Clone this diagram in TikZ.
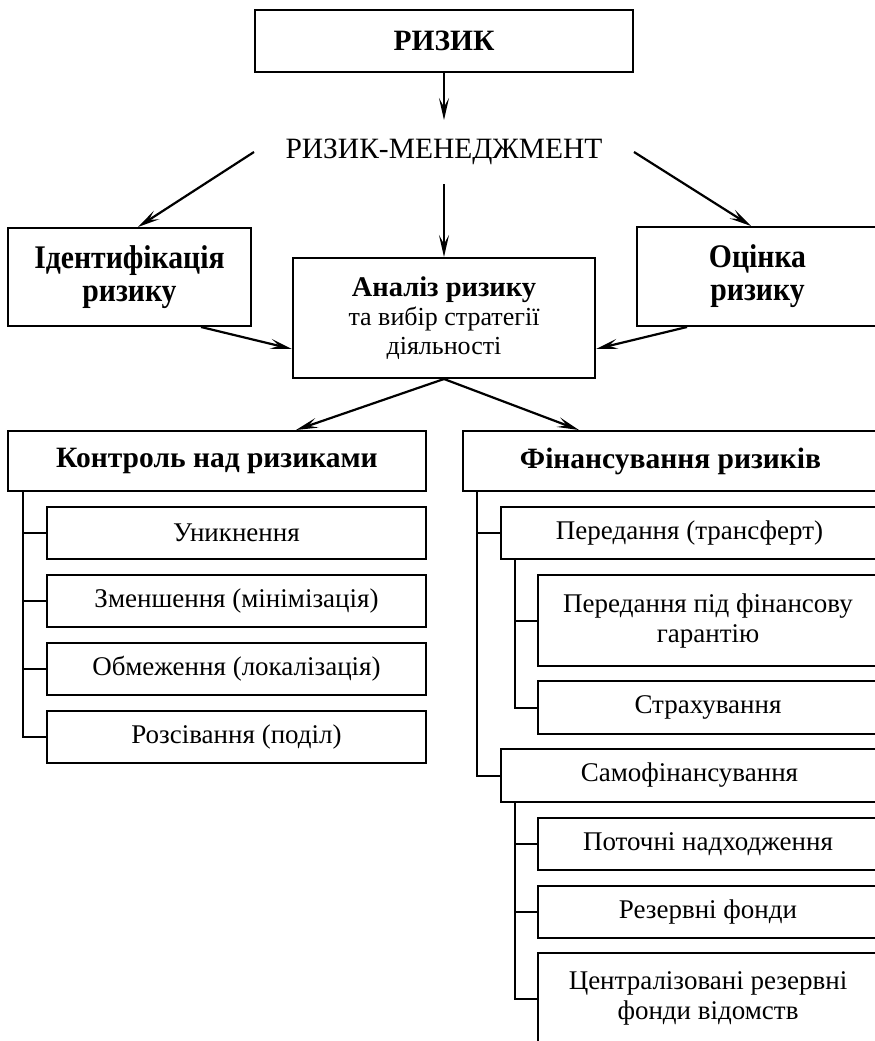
\documentclass[tikz,border=0pt]{standalone}
\usepackage{fontspec}
\setmainfont{Liberation Serif}
\newfontfamily\narrowserif[FakeStretch=0.9]{Liberation Serif}
\usetikzlibrary{arrows.meta}

\begin{document}
\begin{tikzpicture}[
  x = 1pt, y = -1pt,
  > = {Stealth[length=22pt,width=10pt,inset=9pt]},
  font = \fontsize{27}{30}\selectfont,
  line width = 2pt,
  box/.style = {draw,rectangle,align=center,inner sep=0pt},
  item/.style = {box,minimum height=52pt},
  head/.style = {font=\fontsize{29.5}{33}\selectfont\bfseries},
  tallhead/.style = {font=\fontsize{33}{33}\narrowserif\bfseries},
  arr/.style = {->,line width=2.2pt}
  ]
  \useasboundingbox (0,0) rectangle (875,1041);
  \clip (0,0) rectangle (875,1041);

  % top part
  \node[box,head,minimum width=378pt,minimum height=62pt] (@ryzyk) at (444,41) {РИЗИК};
  \node[align=center,font=\fontsize{29.5}{33}\selectfont,minimum width=378pt,minimum height=62pt,inner sep=0pt] (@rm) at (444,152) {РИЗИК-МЕНЕДЖМЕНТ};
  \node[box,tallhead,minimum width=243pt,minimum height=98pt] (@ident) at (129.5,277) {Ідентифікація\\ризику};
  \node[box,tallhead,minimum width=241pt,minimum height=99pt] (@ocinka) at (757.5,276.5) {Оцінка\\ризику};
  \node[box,font=\fontsize{26}{29}\selectfont,minimum width=302pt,minimum height=120pt] (@analiz) at (444,318)
    {{\fontsize{28.5}{32}\selectfont\bfseries Аналіз ризику}\\та вибір стратегії\\діяльності};

  \draw[arr] (@ryzyk.south) -- (@rm.north);
  \draw[arr] (@rm.west) -- ([xshift=8.5]@ident.north);
  \draw[arr] (@rm.east) -- ([xshift=-6.5]@ocinka.north);
  \draw[arr] (@rm.south) -- (@analiz.north);
  \draw[arr] ([xshift=-51]@ident.south east) -- ([yshift=-31]@analiz.west);
  \draw[arr] ([xshift=51]@ocinka.south west) -- ([yshift=-31]@analiz.east);

  % two branches
  \node[box,head,minimum width=418pt,minimum height=60pt] (@kontrol) at (217,461) {Контроль над ризиками};
  \node[box,head,minimum width=415pt,minimum height=60pt] (@finans) at (670.5,461) {Фінансування ризиків};
  \draw[arr] (@analiz.south) -- ([xshift=-131]@kontrol.north east);
  \draw[arr] (@analiz.south) -- ([xshift=117]@finans.north west);

  % control of risks
  \foreach \t [count=\i] in {Уникнення,Зменшення (мінімізація),Обмеження (локалізація),Розсівання (поділ)}{
    \node[item,minimum width=379pt] (@k\i) at (236.5,{533+68*(\i-1)}) {\t};
    \draw ([xshift=16]@kontrol.south west) |- (@k\i.west);
  }

  % financing of risks
  \node[item,minimum width=377pt] (@peredannia) at (689.5,533) {Передання (трансферт)};
  \node[box,minimum width=340pt,minimum height=91pt] (@garant) at (708,620.5) {Передання під фінансову\\гарантію};
  \node[item,minimum width=340pt,minimum height=53pt] (@strakh) at (708,707.5) {Страхування};
  \node[item,minimum width=377pt,minimum height=53pt] (@samof) at (689.5,775.5) {Самофінансування};
  \node[item,minimum width=340pt] (@potochni) at (708,844) {Поточні надходження};
  \node[item,minimum width=340pt] (@rezerv) at (708,912) {Резервні фонди};
  \node[box,minimum width=340pt,minimum height=91pt] (@central) at (708,998.5) {Централізовані резервні\\фонди відомств};

  \draw ([xshift=15]@finans.south west) |- (@peredannia.west);
  \draw ([xshift=15]@finans.south west) |- (@samof.west);
  \draw ([xshift=15]@peredannia.south west) |- (@garant.west);
  \draw ([xshift=15]@peredannia.south west) |- (@strakh.west);
  \draw ([xshift=15]@samof.south west) |- (@potochni.west);
  \draw ([xshift=15]@samof.south west) |- (@rezerv.west);
  \draw ([xshift=15]@samof.south west) |- (@central.west);
\end{tikzpicture}
\end{document}
